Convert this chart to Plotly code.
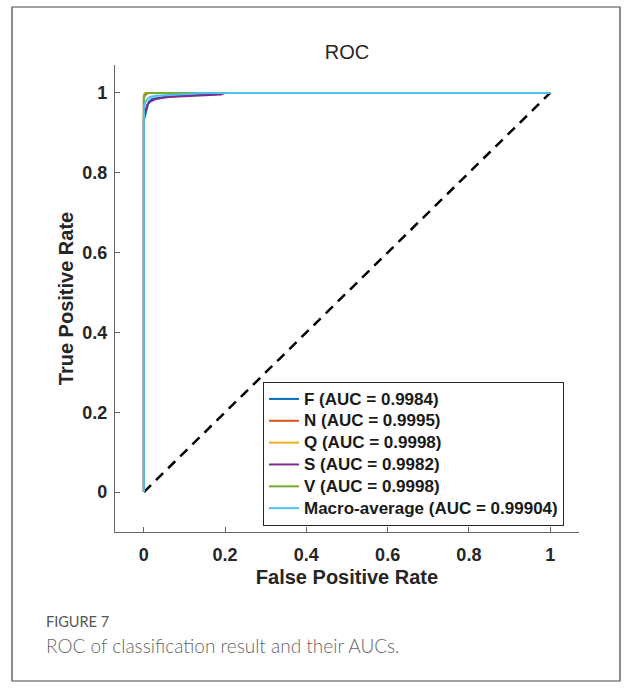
import plotly.graph_objects as go

# ---- data ----
class_names = ["F", "N", "Q", "S", "V", "Macro-average"]
auc_values = ["0.9984", "0.9995", "0.9998", "0.9982", "0.9998", "0.99904"]

F_fpr = [0, 0, 0.002, 0.005, 0.008, 0.012, 0.02, 0.05, 0.1, 0.15, 0.2, 1]
F_tpr = [0, 0.93, 0.94, 0.95, 0.965, 0.978, 0.985, 0.99, 0.993, 0.996, 1, 1]

N_fpr = [0, 0, 0.002, 0.006, 0.012, 1]
N_tpr = [0, 0.985, 0.993, 0.997, 1, 1]

Q_fpr = [0, 0, 0.002, 0.004, 1]
Q_tpr = [0, 0.995, 0.998, 1, 1]

S_fpr = [0, 0, 0.004, 0.008, 0.015, 0.03, 0.06, 0.1, 0.15, 0.19, 0.2, 1]
S_tpr = [0, 0.94, 0.955, 0.97, 0.978, 0.985, 0.99, 0.992, 0.994, 0.996, 1, 1]

V_fpr = [0, 0, 0.002, 0.005, 1]
V_tpr = [0, 0.99, 0.997, 1, 1]

M_fpr = [0, 0, 0.003, 0.008, 0.015, 0.03, 0.06, 0.1, 0.15, 1]
M_tpr = [0, 0.96, 0.975, 0.984, 0.99, 0.993, 0.995, 0.997, 1, 1]

diag_x = [0, 1]
diag_y = [0, 1]

x_ticks = [0, 0.2, 0.4, 0.6, 0.8, 1]
x_ticklabels = ["0", "0.2", "0.4", "0.6", "0.8", "1"]
y_ticks = [0, 0.2, 0.4, 0.6, 0.8, 1]
y_ticklabels = ["0", "0.2", "0.4", "0.6", "0.8", "1"]

colors = ["#0072BD", "#D95319", "#EDB120", "#7E2F8E", "#77AC30", "#4DBEEE"]
series = [(F_fpr, F_tpr), (N_fpr, N_tpr), (Q_fpr, Q_tpr),
          (S_fpr, S_tpr), (V_fpr, V_tpr), (M_fpr, M_tpr)]

FONT = "Liberation Sans, Arial, Helvetica, sans-serif"

fig = go.Figure()
fig.add_trace(go.Scatter(x=diag_x, y=diag_y, mode="lines",
                         line=dict(color="black", width=2.5, dash="10px,7px"),
                         showlegend=False, hoverinfo="skip"))
for name, auc, col, (fx, ty) in zip(class_names, auc_values, colors, series):
    fig.add_trace(go.Scatter(x=fx, y=ty, mode="lines",
                             name=f"<span style='font-size:17px'>{name} (AUC = {auc})</span>",
                             line=dict(color=col, width=2)))

W, H = 625, 688
L, R, T, B = 115, 579, 65, 532
pw, ph = R - L, B - T

def px_x(p):
    return (p - L) / pw

def px_y(p):
    return (B - p) / ph

tick_font = dict(family=FONT, size=18, color="#262626", weight="bold")
title_font = dict(family=FONT, size=20, color="#262626", weight="bold")

fig.update_layout(
    width=W, height=H,
    margin=dict(l=L, r=W - R, t=T, b=H - B, pad=0),
    paper_bgcolor="white", plot_bgcolor="white",
    title=dict(text="ROC", x=(L + R) / 2 / W, xanchor="center",
               y=1 - 52 / H, yanchor="middle",
               font=dict(family=FONT, size=20, color="#262626")),
    showlegend=True,
    legend=dict(x=px_x(263), y=px_y(382), xanchor="left", yanchor="top",
                bgcolor="white", bordercolor="#262626", borderwidth=1,
                font=dict(family=FONT, size=14.5, color="#1a1a1a", weight="bold"),
                itemwidth=30, tracegroupgap=0),
    xaxis=dict(range=[-0.071, 1.071], tickvals=x_ticks, ticktext=x_ticklabels,
               showgrid=False, zeroline=False, showline=True, linecolor="#666", linewidth=1.2,
               ticks="inside", ticklen=5, tickcolor="#666", tickfont=tick_font,
               ticklabelstandoff=6,
               title=dict(text="False Positive Rate", standoff=6, font=title_font)),
    yaxis=dict(range=[-0.1, 1.07], tickvals=y_ticks, ticktext=y_ticklabels,
               showgrid=False, zeroline=False, showline=True, linecolor="#666", linewidth=1.2,
               ticks="inside", ticklen=5, tickcolor="#666", tickfont=tick_font,
               ticklabelstandoff=3,
               title=dict(text="True Positive Rate", standoff=3, font=title_font)),
)

# outer figure frame
fig.add_shape(type="rect", xref="paper", yref="paper",
              x0=px_x(12), x1=px_x(620), y0=px_y(681), y1=px_y(7),
              line=dict(color="#444", width=1.2), fillcolor="rgba(0,0,0,0)", layer="below")

fig.add_annotation(text="FIGURE 7", xref="paper", yref="paper",
                   x=px_x(44), y=px_y(621), xanchor="left", yanchor="middle", showarrow=False,
                   font=dict(family="Lato, Open Sans, sans-serif", size=14.5, color="#555555"))
fig.add_annotation(text="ROC of classification result and their AUCs.", xref="paper", yref="paper",
                   x=px_x(44), y=px_y(645), xanchor="left", yanchor="middle", showarrow=False,
                   font=dict(family="Lato, Open Sans, sans-serif", size=19, color="#666666", weight=300))

fig.write_html("out.html", config={"displayModeBar": False},
               post_script="document.body.style.margin='0';")
